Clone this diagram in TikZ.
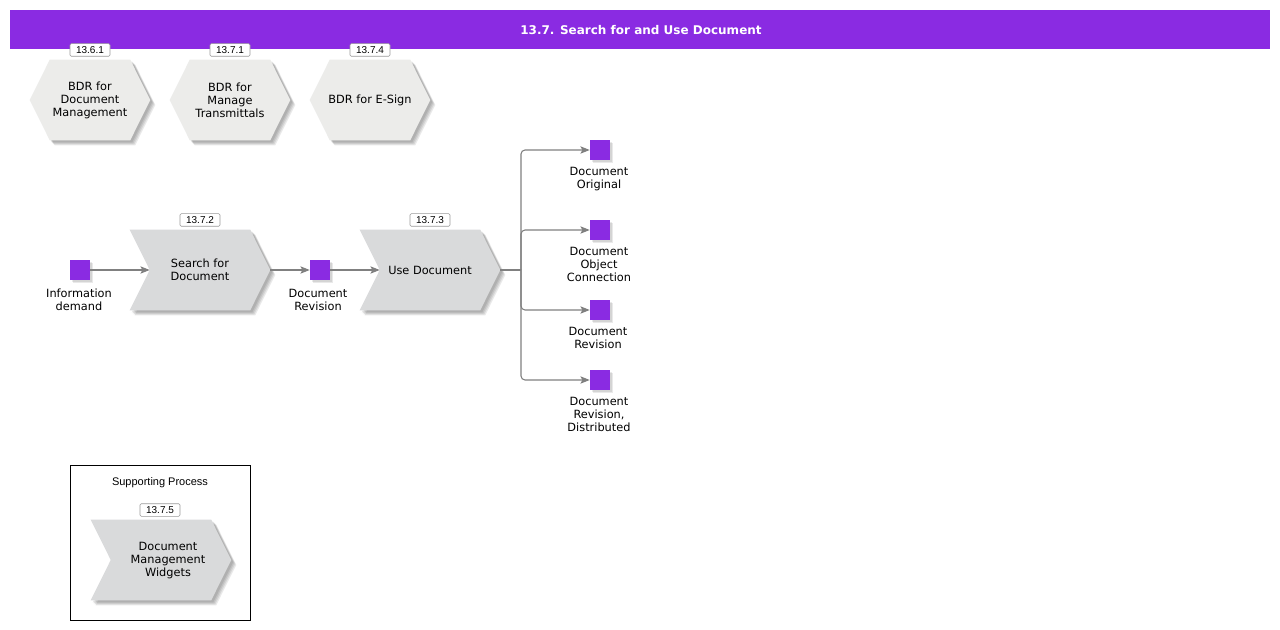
\documentclass[tikz,border=0pt]{standalone}
\usepackage{fontspec}
\setmainfont{DejaVu Sans}
\newfontfamily\arialf{Liberation Sans}
\usetikzlibrary{arrows.meta,calc,backgrounds}
\definecolor{bv}{HTML}{8A2BE2}
\definecolor{hexfillc}{HTML}{ECECEA}
\definecolor{chevfillc}{HTML}{D9DADB}
\definecolor{connc}{HTML}{808080}
\definecolor{idborder}{HTML}{9A9A9A}

\tikzset{
 txt/.style={font=\fontsize{8.5}{9.75}\selectfont, align=center, text=black, inner sep=0pt},
 chevnode/.style={minimum width=105pt, minimum height=60pt, inner sep=0pt, txt},
 hexnode/.style={minimum width=90pt, minimum height=60pt, inner sep=0pt, txt},
 evt/.style={fill=bv, minimum size=15pt, inner sep=0pt},
 evtlbl/.style={txt, anchor=north},
 idlbl/.style={draw=idborder, line width=0.5pt, fill=white, rounded corners=1pt, minimum width=30pt, minimum height=9.5pt, inner sep=0pt, font=\arialf\fontsize{7.5}{8}\selectfont},
 conn/.style={draw=connc, line width=0.8pt, -{Stealth[length=7pt,width=5.5pt,inset=1.5pt]}},
 connplain/.style={draw=connc, line width=0.8pt},
 shade/.style={fill=black, fill opacity=0.085},
}

\newcommand\hexshadow[2]{%
 \fill[shade] ([shift={(#2,#2)}]#1.west) -- ([shift={(20+#2,#2)}]#1.north west) -- ([shift={(-20+#2,#2)}]#1.north east) -- ([shift={(#2,#2)}]#1.east) -- ([shift={(-20+#2,#2)}]#1.south east) -- ([shift={(20+#2,#2)}]#1.south west) -- cycle;}
\newcommand\hexdraw[1]{%
 \hexshadow{#1}{2}\hexshadow{#1}{3}\hexshadow{#1}{4}\hexshadow{#1}{5}
 \fill[hexfillc] (#1.west) -- ([shift={(20,0)}]#1.north west) -- ([shift={(-20,0)}]#1.north east) -- (#1.east) -- ([shift={(-20,0)}]#1.south east) -- ([shift={(20,0)}]#1.south west) -- cycle;}
\newcommand\chevshadow[2]{%
 \fill[shade] ([shift={(#2,#2)}]#1.north west) -- ([shift={(-20+#2,#2)}]#1.north east) -- ([shift={(#2,#2)}]#1.east) -- ([shift={(-20+#2,#2)}]#1.south east) -- ([shift={(#2,#2)}]#1.south west) -- ([shift={(20+#2,#2)}]#1.west) -- cycle;}
\newcommand\chevdraw[1]{%
 \chevshadow{#1}{2}\chevshadow{#1}{3}\chevshadow{#1}{4}\chevshadow{#1}{5}
 \fill[chevfillc] (#1.north west) -- ([shift={(-20,0)}]#1.north east) -- (#1.east) -- ([shift={(-20,0)}]#1.south east) -- (#1.south west) -- ([shift={(20,0)}]#1.west) -- cycle;}
\newcommand\evtshadow[1]{%
 \fill[shade] ([shift={(2,2)}]#1.north west) rectangle ([shift={(2,2)}]#1.south east);
 \fill[shade] ([shift={(3,3)}]#1.north west) rectangle ([shift={(3,3)}]#1.south east);}

\begin{document}
\begin{tikzpicture}[x=0.75pt,y=-0.75pt]
\useasboundingbox (0,0) rectangle (1280,630);

% title
\node[fill=bv, minimum width=945pt, minimum height=29.25pt, inner sep=0pt] (titlebar) at (640,29.5) {};
\node[text=white, inner sep=0pt, font=\bfseries\fontsize{9}{11}\selectfont] (title) at (641,30.5) {13.7. Search for and Use Document};

% hexagons
\node[hexnode] (h1) at (90,100) {BDR for\\Document\\Management};
\node[hexnode] (h2) at (230,100) {BDR for\\Manage\\Transmittals};
\node[hexnode] (h3) at (370,100) {BDR for E-Sign};
\node[idlbl] (h1id) at (90,50) {13.6.1};
\node[idlbl] (h2id) at (230,50) {13.7.1};
\node[idlbl] (h3id) at (370,50) {13.7.4};

% chevrons
\node[chevnode] (search) at (200,270) {Search for\\Document};
\node[chevnode] (use) at (430,270) {Use Document};
\node[idlbl] (searchid) at (200,220) {13.7.2};
\node[idlbl] (useid) at (430,220) {13.7.3};

% events
\node[evt] (info) at (80,270) {};
\node[evtlbl] (infol) at (79,288.5) {Information\\demand};
\node[evt] (rev) at (320,270) {};
\node[evtlbl] (revl) at (318,288.5) {Document\\Revision};
\node[evt] (o1) at (600,150) {};
\node[evtlbl] (o1l) at (599,166.5) {Document\\Original};
\node[evt] (o2) at (600,230) {};
\node[evtlbl] (o2l) at (599,246.5) {Document\\Object\\Connection};
\node[evt] (o3) at (600,310) {};
\node[evtlbl] (o3l) at (598,326.5) {Document\\Revision};
\node[evt] (o4) at (600,380) {};
\node[evtlbl] (o4l) at (599,396.5) {Document\\Revision,\\Distributed};

% supporting process
\node[draw=black, line width=0.75pt, minimum width=135pt, minimum height=116.25pt, inner sep=0pt] (supbox) at (160,542.5) {};
\node[font=\arialf\fontsize{8.25}{10}\selectfont, inner sep=0pt] (suptitle) at (160,483) {Supporting Process};
\node[idlbl] (supid) at (160,510) {13.7.5};
\node[chevnode] (sup) at (161,560) {};
\node[txt] (supt) at (168,561) {Document\\Management\\Widgets};

\begin{scope}[on background layer]
 \fill[white] (0,0) rectangle (1280,630);
 \hexdraw{h1}\hexdraw{h2}\hexdraw{h3}
 \chevdraw{search}\chevdraw{use}\chevdraw{sup}
 \evtshadow{info}\evtshadow{rev}\evtshadow{o1}\evtshadow{o2}\evtshadow{o3}\evtshadow{o4}
\end{scope}

% connectors
\coordinate (br) at (521,270);
\draw[conn] (info.east) -- ([xshift=15pt]search.west);
\draw[conn] (search.east) -- (rev.west);
\draw[conn] (rev.east) -- ([xshift=15pt]use.west);
\draw[connplain] (use.east) -- (br);
\draw[conn, rounded corners=3pt] (br) |- (o1.west);
\draw[conn, rounded corners=3pt] (br) |- (o2.west);
\draw[conn, rounded corners=3pt] (br) |- (o3.west);
\draw[conn, rounded corners=3pt] (br) |- (o4.west);
\end{tikzpicture}
\end{document}
